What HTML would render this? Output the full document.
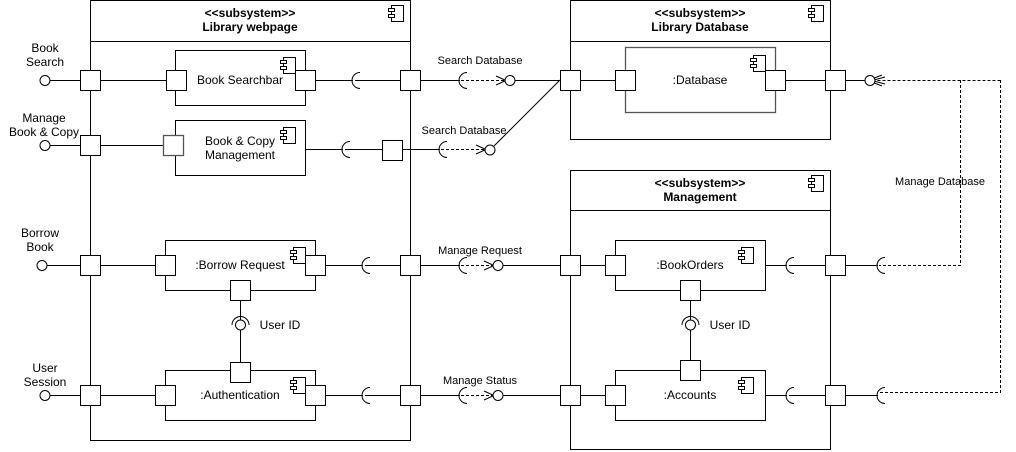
<!DOCTYPE html>
<html><head><meta charset="utf-8"><style>
html,body{margin:0;padding:0;background:#fff;}
svg{display:block;font-family:"Liberation Sans",Arial,sans-serif;}
</style></head><body>
<svg width="1016" height="452" viewBox="0 0 1016 452" xmlns="http://www.w3.org/2000/svg">
<defs>
<g id="ic"><rect x="3" y="0" width="12" height="16" fill="#fff" stroke="#000"/><rect x="0" y="3" width="6" height="3" fill="#fff" stroke="#000"/><rect x="0" y="9" width="6" height="3" fill="#fff" stroke="#000"/></g>
</defs>
<g fill="none" stroke="#000" stroke-width="1">
<rect x="90.5" y="0.5" width="320" height="440" fill="#fff"/>
<line x1="90" y1="41.5" x2="410" y2="41.5"/>
<rect x="570.5" y="0.5" width="260" height="139" fill="#fff"/>
<line x1="570" y1="41.5" x2="830" y2="41.5"/>
<rect x="570.5" y="170.5" width="260" height="279" fill="#fff"/>
<line x1="570" y1="210.5" x2="830" y2="210.5"/>
<rect x="175.5" y="50.5" width="130" height="55"/>
<rect x="175.5" y="120.5" width="130" height="55"/>
<rect x="165.5" y="240.5" width="150" height="50"/>
<rect x="165.5" y="370.5" width="150" height="50"/>
<rect x="625.5" y="47.5" width="150" height="65" stroke="#555" stroke-width="1.3"/>
<rect x="615.5" y="240.5" width="150" height="50"/>
<rect x="615.5" y="370.5" width="150" height="50"/>

<path d="M50,80.5H80 M100,80.5H166 M315,80.5H353 M355,80.5H400 M420,80.5H460 M515,80.5H560 M580,80.5H615 M785,80.5H825 M845,80.5H866"/>
<path d="M50,145.5H80 M100,145.5H163 M305,149.5H343 M345,149.5H382 M402,149.5H440 M494,146L560,80"/>
<path d="M47,265.5H80 M100,265.5H155 M325,265.5H363 M365,265.5H400 M420,265.5H460 M503,265.5H560 M580,265.5H605 M765,265.5H787 M789,265.5H825 M845,265.5H878"/>
<path d="M50,395.5H80 M100,395.5H155 M325,395.5H363 M365,395.5H400 M420,395.5H460 M503,395.5H560 M580,395.5H605 M765,395.5H787 M789,395.5H825 M845,395.5H878"/>
<path d="M240.5,300V320 M240.5,330V362 M690.5,300V320 M690.5,330V360"/>

<g stroke-dasharray="3,2">
<path d="M461,80.5H505"/>
<path d="M441,149.5H485"/>
<path d="M461,265.5H493"/>
<path d="M461,395.5H493"/>
<path d="M1000.5,80.5H875"/>
<path d="M960.5,80V265.5H879"/>
<path d="M1000.5,80V392.5H879"/>
</g>
<g>
<path d="M496,76L506,80.5L496,85"/>
<path d="M476,145L486,149.5L476,154"/>
<path d="M484,261L494,265.5L484,270"/>
<path d="M484,391L494,395.5L484,400"/>
<path d="M882,75L868,80.5L882,86 M885,77L872,80.5L885,84"/>
</g>

<g>
<path d="M360,72.5A8,8 0 0 0 360,88.5"/>
<path d="M350,141.5A8,8 0 0 0 350,157.5"/>
<path d="M467,72.5A8,8 0 0 0 467,88.5"/>
<path d="M447,141.5A8,8 0 0 0 447,157.5"/>
<path d="M370,257.5A8,8 0 0 0 370,273.5"/>
<path d="M370,387.5A8,8 0 0 0 370,403.5"/>
<path d="M467,257.5A8,8 0 0 0 467,273.5"/>
<path d="M467,387.5A8,8 0 0 0 467,403.5"/>
<path d="M794,257.5A8,8 0 0 0 794,273.5"/>
<path d="M794,387.5A8,8 0 0 0 794,403.5"/>
<path d="M885,257.5A8,8 0 0 0 885,273.5"/>
<path d="M885,387.5A8,8 0 0 0 885,403.5"/>
<path d="M232,325A8.5,8.5 0 0 1 249,325"/>
<path d="M682,325A8.5,8.5 0 0 1 699,325"/>
</g>
<g fill="#fff">
<circle cx="45" cy="80.5" r="5"/>
<circle cx="45" cy="145.5" r="5"/>
<circle cx="42" cy="265.5" r="5"/>
<circle cx="45" cy="395.5" r="5"/>
<circle cx="510" cy="80.5" r="5"/>
<circle cx="490" cy="150" r="5"/>
<circle cx="498" cy="265.5" r="5"/>
<circle cx="498" cy="395.5" r="5"/>
<circle cx="870" cy="80.5" r="5"/>
<circle cx="240.5" cy="325" r="5"/>
<circle cx="690.5" cy="325" r="5"/>
</g>

<g fill="#fff">
<rect x="80.5" y="70.5" width="20" height="20"/>
<rect x="80.5" y="135.5" width="20" height="20"/>
<rect x="80.5" y="255.5" width="20" height="20"/>
<rect x="80.5" y="385.5" width="20" height="20"/>
<rect x="400.5" y="70.5" width="20" height="20"/>
<rect x="400.5" y="255.5" width="20" height="20"/>
<rect x="400.5" y="385.5" width="20" height="20"/>
<rect x="166.5" y="70.5" width="20" height="20"/>
<rect x="295.5" y="70.5" width="20" height="20"/>
<rect x="163.5" y="135.5" width="20" height="20" stroke="#555" stroke-width="1.3"/>
<rect x="382.5" y="140.5" width="20" height="20"/>
<rect x="155.5" y="255.5" width="20" height="20"/>
<rect x="305.5" y="255.5" width="20" height="20"/>
<rect x="230.5" y="280.5" width="20" height="20"/>
<rect x="155.5" y="385.5" width="20" height="20"/>
<rect x="305.5" y="385.5" width="20" height="20"/>
<rect x="230.5" y="362.5" width="20" height="20"/>
<rect x="560.5" y="70.5" width="20" height="20"/>
<rect x="615.5" y="70.5" width="20" height="20"/>
<rect x="765.5" y="70.5" width="20" height="20"/>
<rect x="825.5" y="70.5" width="20" height="20"/>
<rect x="560.5" y="255.5" width="20" height="20"/>
<rect x="605.5" y="255.5" width="20" height="20"/>
<rect x="680.5" y="280.5" width="20" height="20"/>
<rect x="825.5" y="255.5" width="20" height="20"/>
<rect x="560.5" y="385.5" width="20" height="20"/>
<rect x="605.5" y="385.5" width="20" height="20"/>
<rect x="680.5" y="360.5" width="20" height="20"/>
<rect x="825.5" y="385.5" width="20" height="20"/>
</g>
</g>
<use href="#ic" x="388.5" y="5.5"/>
<use href="#ic" x="808.5" y="5.5"/>
<use href="#ic" x="808.5" y="175.5"/>
<use href="#ic" x="280.5" y="57.5"/>
<use href="#ic" x="280.5" y="127.5"/>
<use href="#ic" x="290.5" y="247.5"/>
<use href="#ic" x="290.5" y="377.5"/>
<use href="#ic" x="750.5" y="55.5"/>
<use href="#ic" x="738.5" y="247.5"/>
<use href="#ic" x="738.5" y="377.5"/>

<g font-size="12" fill="#000" text-anchor="middle">
<text x="250" y="17" font-weight="bold">&lt;&lt;subsystem&gt;&gt;</text>
<text x="250" y="31" font-weight="bold">Library webpage</text>
<text x="700" y="17" font-weight="bold">&lt;&lt;subsystem&gt;&gt;</text>
<text x="700" y="31" font-weight="bold">Library Database</text>
<text x="700" y="187" font-weight="bold">&lt;&lt;subsystem&gt;&gt;</text>
<text x="700" y="201" font-weight="bold">Management</text>
<text x="240" y="84">Book Searchbar</text>
<text x="240" y="145">Book &amp; Copy</text>
<text x="240" y="159">Management</text>
<text x="240" y="269">:Borrow Request</text>
<text x="240" y="399">:Authentication</text>
<text x="700" y="84">:Database</text>
<text x="690" y="269">:BookOrders</text>
<text x="690" y="399">:Accounts</text>
<text x="45" y="52">Book</text>
<text x="45" y="66">Search</text>
<text x="44" y="122">Manage</text>
<text x="44" y="136">Book &amp; Copy</text>
<text x="40" y="237">Borrow</text>
<text x="40" y="251">Book</text>
<text x="45" y="372">User</text>
<text x="45" y="386">Session</text>
<text x="280" y="329">User ID</text>
<text x="730" y="329">User ID</text>
</g>
<g font-size="11" fill="#000" text-anchor="middle">
<text x="480" y="64">Search Database</text>
<text x="464" y="134">Search Database</text>
<text x="480" y="254">Manage Request</text>
<text x="480" y="384">Manage Status</text>
<text x="940" y="185">Manage Database</text>
</g>
</svg>
</body></html>
